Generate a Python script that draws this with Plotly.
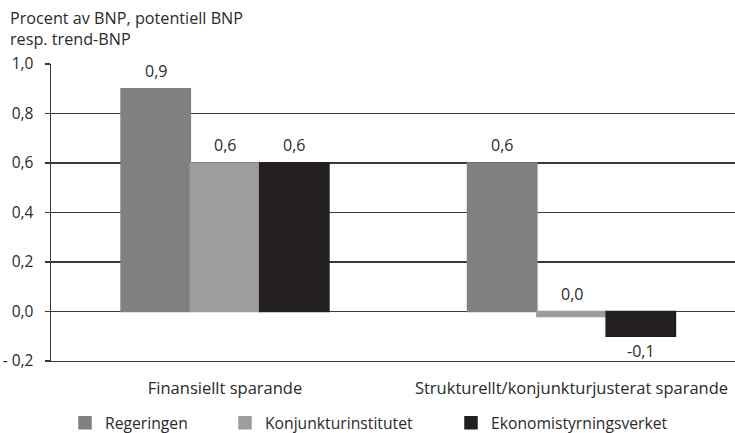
import plotly.graph_objects as go

categories = ["Finansiellt sparande", "Strukturellt/konjunkturjusterat sparande"]
series_names = ["Regeringen", "Konjunkturinstitutet", "Ekonomistyrningsverket"]
regeringen = [0.9, 0.6]
konjunkturinstitutet = [0.6, -0.02]
ekonomistyrningsverket = [0.6, -0.1]
value_labels = {
    "Regeringen": ["0,9", "0,6"],
    "Konjunkturinstitutet": ["0,6", "0,0"],
    "Ekonomistyrningsverket": ["0,6", "-0,1"],
}
y_tickvals = [-0.2, 0.0, 0.2, 0.4, 0.6, 0.8, 1.0]
y_ticktext = ["-\u00a00,2", "0,0", "0,2", "0,4", "0,6", "0,8", "1,0"]
title_text = "Procent av BNP, potentiell BNP<br>resp. trend-BNP"

colors = ["#808083", "#9d9d9f", "#231f20"]
series_values = [regeringen, konjunkturinstitutet, ekonomistyrningsverket]
FONT = "Open Sans"
TXT = "#2a2a2a"
GRID = "#3a3a3a"

W, H = 735, 433
ML, MR, MT, MB = 51, 0, 64, 72
pw = W - ML - MR
ph = H - MT - MB

fig = go.Figure()
legend_ids = ["legend", "legend2", "legend3"]
for name, vals, col, lid in zip(series_names, series_values, colors, legend_ids):
    fig.add_trace(go.Bar(
        name=name, x=categories, y=vals,
        marker=dict(color=col, line=dict(width=1.5, color=col)),
        legend=lid, hoverinfo="skip",
    ))

# value labels
bargap = 0.4
bw = (1 - bargap) / len(series_names)
annotations = []
for si, (name, vals) in enumerate(zip(series_names, series_values)):
    off = (si - (len(series_names) - 1) / 2) * bw
    for ci, v in enumerate(vals):
        above = v > -0.05
        annotations.append(dict(
            x=ci + off, y=max(v, 0) if above else v, xref="x", yref="y",
            text=value_labels[name][ci], showarrow=False,
            yshift=18 if above else -15, yanchor="middle",
            font=dict(family=FONT, size=16, color=TXT),
        ))


def px_to_paper_x(px):
    return (px - ML) / pw


def px_to_paper_y(py):
    return (H - MB - py) / ph


annotations.append(dict(
    x=px_to_paper_x(8), y=px_to_paper_y(5), xref="paper", yref="paper",
    text=title_text, showarrow=False,
    xanchor="left", yanchor="top", align="left",
    font=dict(family=FONT, size=16.2, color=TXT),
))

legend_left_px = [65, 225, 451]
legend_cfg = {}
for lid, lx in zip(legend_ids, legend_left_px):
    legend_cfg[lid] = dict(
        x=px_to_paper_x(lx), xanchor="left", y=px_to_paper_y(423),
        yanchor="middle", orientation="h", bgcolor="rgba(0,0,0,0)",
        font=dict(family=FONT, size=15.7, color=TXT),
    )

# x range so that category centers land where reference has them
range_lo = (ML - 225) / 346.5
range_hi = (W - MR - 225) / 346.5

fig.update_layout(
    width=W, height=H,
    margin=dict(l=ML, r=MR, t=MT, b=MB, autoexpand=False),
    paper_bgcolor="white", plot_bgcolor="white",
    barmode="group", bargap=bargap, bargroupgap=0,
    font=dict(family=FONT, size=15, color=TXT),
    annotations=annotations,
    showlegend=True,
    **legend_cfg,
)
fig.update_xaxes(
    type="category", range=[range_lo, range_hi], showgrid=False,
    showline=True, linecolor=GRID, linewidth=1.3, mirror=False,
    ticks="", ticklabelstandoff=12,
    tickfont=dict(family=FONT, size=16.5, color=TXT),
)
fig.update_yaxes(
    range=[-0.2, 1.0], tickvals=y_tickvals, ticktext=y_ticktext,
    showgrid=True, gridcolor=GRID, gridwidth=1.3,
    zeroline=True, zerolinecolor=GRID, zerolinewidth=1.3,
    showline=True, linecolor=GRID, linewidth=1.5,
    ticks="outside", ticklen=5, tickcolor=GRID, tickwidth=1.3,
    ticklabelstandoff=8,
    tickfont=dict(family=FONT, size=15.5, color=TXT),
)

fig.write_html(
    "out.html",
    config={"displayModeBar": False, "staticPlot": True},
    post_script="document.body.style.margin='0';",
)
